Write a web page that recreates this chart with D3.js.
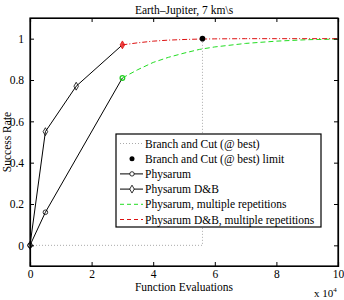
<!DOCTYPE html>
<html>
<head>
<meta charset="utf-8">
<script src="https://cdn.jsdelivr.net/npm/d3@7"></script>
<style>
  body { margin: 0; background: #fff; }
  text { font-family: "Liberation Serif", "Times New Roman", serif; fill: #000; }
</style>
</head>
<body>
<svg class="chart"></svg>
<script>
// data, x in function evaluations
var physX = [0, 5000, 30000];
var physY = [0, 0.16, 0.81];
var dbX = [0, 5000, 15000, 30000];
var dbY = [0, 0.55, 0.77, 0.97];
var repX = [30000, 35000, 40000, 45000, 50000, 55000, 60000, 70000, 80000, 90000, 100000];
var repY = [0.81, 0.85, 0.885, 0.91, 0.93, 0.948, 0.96, 0.977, 0.988, 0.995, 0.998];
var dbRepX = [30000, 35000, 40000, 45000, 50000, 55000, 60000, 70000, 80000, 100000];
var dbRepY = [0.97, 0.98, 0.988, 0.993, 0.996, 0.998, 0.999, 1, 1, 1];
var bcX = [0, 56000, 56000];
var bcY = [0, 0, 1];
var bcLimit = [56000, 1];
var xTicks = [0, 2, 4, 6, 8, 10];
var yTicks = [0, 0.2, 0.4, 0.6, 0.8, 1];

var margin = { top: 18, right: 6, bottom: 34, left: 30 },
    width = 344 - margin.left - margin.right,
    height = 300 - margin.top - margin.bottom;

var svg = d3.select('.chart').attr('width', 344).attr('height', 300);
var chart = svg.append('g')
    .attr('transform', 'translate(' + margin.left + ',' + margin.top + ')');

var x = d3.scaleLinear().domain([0, 100000]).range([0, width]);
var y = d3.scaleLinear().domain([-0.1, 1.1]).range([height, 0]);

function zip(xs, ys) { return xs.map(function (v, i) { return [v, ys[i]]; }); }
var line = d3.line().x(function (d) { return x(d[0]); }).y(function (d) { return y(d[1]); });

// branch and cut
chart.append('path').attr('d', line(zip(bcX, bcY)))
    .attr('fill', 'none').attr('stroke', '#aaa').attr('stroke-width', 1).attr('stroke-dasharray', '1,2');

// physarum lines
chart.append('path').attr('d', line(zip(physX, physY)))
    .attr('fill', 'none').attr('stroke', '#000').attr('stroke-width', 1);
chart.append('path').attr('d', line(zip(dbX, dbY)))
    .attr('fill', 'none').attr('stroke', '#000').attr('stroke-width', 1);

var diamond = d3.symbol().type(d3.symbolDiamond).size(18);

var last = physX.length - 1, lastDb = dbX.length - 1;
chart.selectAll('.pm').data(zip(physX, physY)).enter().append('circle')
    .attr('cx', function (d) { return x(d[0]); })
    .attr('cy', function (d) { return y(d[1]); })
    .attr('r', 2.3)
    .attr('fill', 'none')
    .attr('stroke', function (d, i) { return i === last ? '#22cc22' : '#000'; })
    .attr('stroke-width', function (d, i) { return i === last ? 1.3 : 0.8; });

chart.selectAll('.dm').data(zip(dbX, dbY)).enter().append('path')
    .attr('d', diamond)
    .attr('transform', function (d) { return 'translate(' + x(d[0]) + ',' + y(d[1]) + ')'; })
    .attr('fill', function (d, i) { return i === lastDb ? '#e44' : 'none'; })
    .attr('stroke', function (d, i) { return i === lastDb ? '#d11' : '#000'; })
    .attr('stroke-width', 0.8);

// multiple repetitions
chart.append('path').attr('d', line(zip(repX, repY)))
    .attr('fill', 'none').attr('stroke', '#22dd22').attr('stroke-width', 1).attr('stroke-dasharray', '5,3');
chart.append('path').attr('d', line(zip(dbRepX, dbRepY)))
    .attr('fill', 'none').attr('stroke', '#dd1111').attr('stroke-width', 1).attr('stroke-dasharray', '5,2,1,2');

chart.append('circle').attr('cx', x(bcLimit[0])).attr('cy', y(bcLimit[1])).attr('r', 2.8).attr('fill', '#000');

// axes with inward ticks on all sides
function fmtX(d) { return d3.format('d')(d / 10000); }
var xAxisB = d3.axisBottom(x).tickValues(xTicks.map(function (t) { return t * 10000; }))
    .tickSize(-4).tickPadding(4).tickFormat(fmtX);
var xAxisT = d3.axisTop(x).tickValues(xTicks.map(function (t) { return t * 10000; }))
    .tickSize(-4).tickFormat('');
var yAxisL = d3.axisLeft(y).tickValues(yTicks).tickSize(-4).tickPadding(6)
    .tickFormat(function (d) { return String(d); });
var yAxisR = d3.axisRight(y).tickValues(yTicks).tickSize(-4).tickFormat('');

chart.append('g').attr('transform', 'translate(0,' + height + ')').call(xAxisB);
chart.append('g').call(xAxisT);
chart.append('g').call(yAxisL);
chart.append('g').attr('transform', 'translate(' + width + ',0)').call(yAxisR);
chart.selectAll('.domain').attr('stroke', '#000').attr('stroke-width', 1.2);
chart.selectAll('.tick text').style('font-family', '"Liberation Serif", serif').style('font-size', '11.5px');

chart.append('rect').attr('width', width).attr('height', height)
    .attr('fill', 'none').attr('stroke', '#000').attr('stroke-width', 1.2);

// labels
svg.append('text').attr('x', 184).attr('y', 14).attr('text-anchor', 'middle')
    .style('font-size', '11.5px').text('Earth\u2013Jupiter, 7 km\\s');
svg.append('text').attr('x', 184).attr('y', 291).attr('text-anchor', 'middle')
    .style('font-size', '11.5px').text('Function Evaluations');
svg.append('text').attr('transform', 'translate(11,' + (margin.top + height / 2) + ') rotate(-90)')
    .attr('text-anchor', 'middle').style('font-size', '11.5px').text('Success Rate');
var mult = svg.append('text').attr('x', 314).attr('y', 297).style('font-size', '11px');
mult.append('tspan').text('x 10');
mult.append('tspan').attr('dy', -5).style('font-size', '7px').text('4');

// legend
var legendItems = [
    { label: 'Branch and Cut (@ best)', color: '#aaa', dash: '1,2', mark: null },
    { label: 'Branch and Cut (@ best) limit', color: 'none', dash: null, mark: 'dot' },
    { label: 'Physarum', color: '#000', dash: null, mark: 'circle' },
    { label: 'Physarum D&B', color: '#000', dash: null, mark: 'diamond' },
    { label: 'Physarum, multiple repetitions', color: '#22dd22', dash: '4,3', mark: null },
    { label: 'Physarum D&B, multiple repetitions', color: '#dd1111', dash: '4,3', mark: null }
];
var legend = svg.append('g').attr('transform', 'translate(116,134)');
legend.append('rect').attr('width', 205).attr('height', 93)
    .attr('fill', '#fff').attr('stroke', '#000').attr('stroke-width', 1.2);
var rows = legend.selectAll('.row').data(legendItems).enter().append('g')
    .attr('transform', function (d, i) { return 'translate(0,' + (9.5 + i * 15.2) + ')'; });
rows.filter(function (d) { return d.color !== 'none'; }).append('line')
    .attr('x1', 4).attr('x2', 27).attr('stroke', function (d) { return d.color; })
    .attr('stroke-width', 1).attr('stroke-dasharray', function (d) { return d.dash; });
rows.filter(function (d) { return d.mark === 'dot'; }).append('circle')
    .attr('cx', 16).attr('r', 2.5).attr('fill', '#000');
rows.filter(function (d) { return d.mark === 'circle'; }).append('circle')
    .attr('cx', 16).attr('r', 2.2).attr('fill', '#fff').attr('stroke', '#000').attr('stroke-width', 0.8);
rows.filter(function (d) { return d.mark === 'diamond'; }).append('path')
    .attr('d', diamond).attr('transform', 'translate(16,0)')
    .attr('fill', '#fff').attr('stroke', '#000').attr('stroke-width', 0.8);
rows.append('text').attr('x', 29).attr('dy', '0.35em').style('font-size', '11.5px')
    .text(function (d) { return d.label; });
</script>
</body>
</html>
